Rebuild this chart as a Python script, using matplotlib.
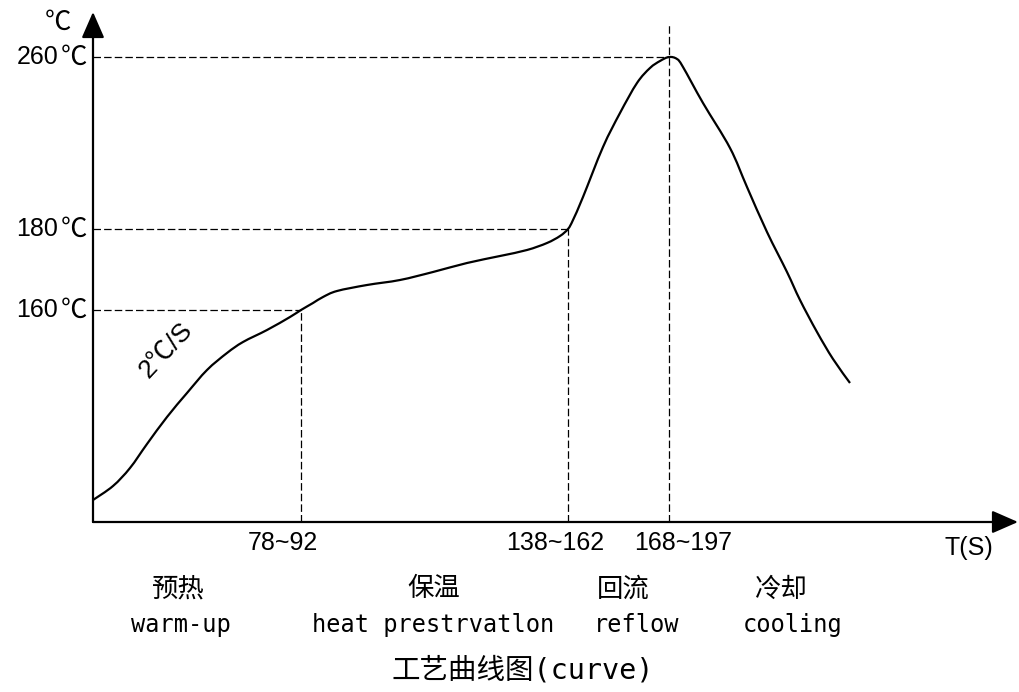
import matplotlib
matplotlib.use("Agg")
import matplotlib.pyplot as plt
from matplotlib.path import Path
from matplotlib.patches import PathPatch

# ---- data (schematic units) ----
curve_t = [0, 20, 37, 54, 74, 94, 114, 134, 150, 174, 197, 208, 220, 230, 244,
           274, 307, 340, 374, 407, 434, 454, 467, 475, 480, 490, 510, 527, 544,
           557, 567, 576, 584, 590, 610, 637, 654, 674, 694, 707, 724, 740, 757]
curve_v = [22, 36, 54, 78, 105, 129, 152, 169, 180, 192, 205, 212, 219, 225, 231,
           237, 242, 250, 259, 266, 272, 279, 286, 293, 302, 325, 375, 409, 439,
           454, 461, 465, 463, 455, 419, 374, 335, 290, 250, 222, 190, 163, 139]

# reference points: (time position, level position)
ref_t = [208, 475, 576]
ref_v = [212, 293, 465]
ref_vtop = [212, 293, 498]          # top of vertical dashed line
ytick_nums = ["160", "180", "260"]
unit = "℃"

xlabel_pos = [190, 462, 590]
xtick_labels = ["78~92", "138~162", "168~197"]

phase_pos = [85, 341, 530, 687]
phase_pos_en = [88, 340, 544, 700]
phase_cn = ["预热", "保温", "回流", "冷却"]
phase_en = ["warm-up", "heat prestrvatlon", "reflow", "cooling"]
title = "工艺曲线图(curve)"

W, H = 1019, 692
fig = plt.figure(figsize=(W / 100, H / 100), dpi=100)
ax = fig.add_axes([93 / W, 170 / H, 926 / W, 522 / H])
ax.set_xlim(0, 926)
ax.set_ylim(0, 522)
ax.axis("off")

num_font = ["Liberation Sans", "Noto Sans CJK SC", "DejaVu Sans"]
cjk_font = ["Noto Sans CJK SC", "DejaVu Sans"]
mono_font = ["DejaVu Sans Mono", "Noto Sans CJK SC"]

# axes arrows
for end in [(0, 510), (925, 0)]:
    ax.annotate("", xy=end, xytext=(0, 0),
                arrowprops=dict(arrowstyle="-|>,head_length=1.6,head_width=0.7",
                                mutation_scale=10, lw=1.6, color="black",
                                shrinkA=0, shrinkB=0), annotation_clip=False)

# dashed reference lines
for t, v, vt in zip(ref_t, ref_v, ref_vtop):
    ax.plot([0, t], [v, v], color="black", lw=0.9, dashes=(6, 2.5), clip_on=False)
    ax.plot([t, t], [0, vt], color="black", lw=0.9, dashes=(6, 2.5), clip_on=False)

# curve drawn as a smooth spline path through the read points (Catmull-Rom -> Bezier)
pts = list(zip(curve_t, curve_v))
verts = [pts[0]]
codes = [Path.MOVETO]
n = len(pts)
for i in range(n - 1):
    p0 = pts[i - 1] if i > 0 else pts[i]
    p1 = pts[i]
    p2 = pts[i + 1]
    p3 = pts[i + 2] if i + 2 < n else pts[i + 1]
    c1 = (p1[0] + (p2[0] - p0[0]) / 6.0, p1[1] + (p2[1] - p0[1]) / 6.0)
    c2 = (p2[0] - (p3[0] - p1[0]) / 6.0, p2[1] - (p3[1] - p1[1]) / 6.0)
    verts += [c1, c2, p2]
    codes += [Path.CURVE4] * 3
ax.add_patch(PathPatch(Path(verts, codes), facecolor="none", edgecolor="black",
                       lw=1.6, clip_on=False))

# y labels
for v, lab in zip(ref_v, ytick_nums):
    ax.text(-35, v, lab, ha="right", va="center", fontsize=18, family=num_font,
            clip_on=False)
    ax.text(-19, v, unit, ha="center", va="center", fontsize=19, family=cjk_font,
            clip_on=False)
ax.text(-35, 500, unit, ha="center", va="center", fontsize=19, family=cjk_font,
        clip_on=False)

# x labels
for x, lab in zip(xlabel_pos, xtick_labels):
    ax.text(x, -21, lab, ha="center", va="center", fontsize=18, family=num_font,
            clip_on=False)
ax.text(876, -26, "T(S)", ha="center", va="center", fontsize=18, family=num_font,
        clip_on=False)

# slope annotation
ax.text(73, 172, "2℃/S", ha="center", va="center", rotation=47, fontsize=19,
        family=num_font, clip_on=False)

# phase labels
for x, lab in zip(phase_pos, phase_cn):
    ax.text(x, -67, lab, ha="center", va="center", fontsize=19, family=cjk_font,
            clip_on=False)
for x, lab in zip(phase_pos_en, phase_en):
    ax.text(x, -103, lab, ha="center", va="center", fontsize=17, family=mono_font,
            clip_on=False)

ax.text(430, -148, title, ha="center", va="center", fontsize=20.5,
        family=mono_font, clip_on=False)

fig.savefig("out.png", dpi=100)
